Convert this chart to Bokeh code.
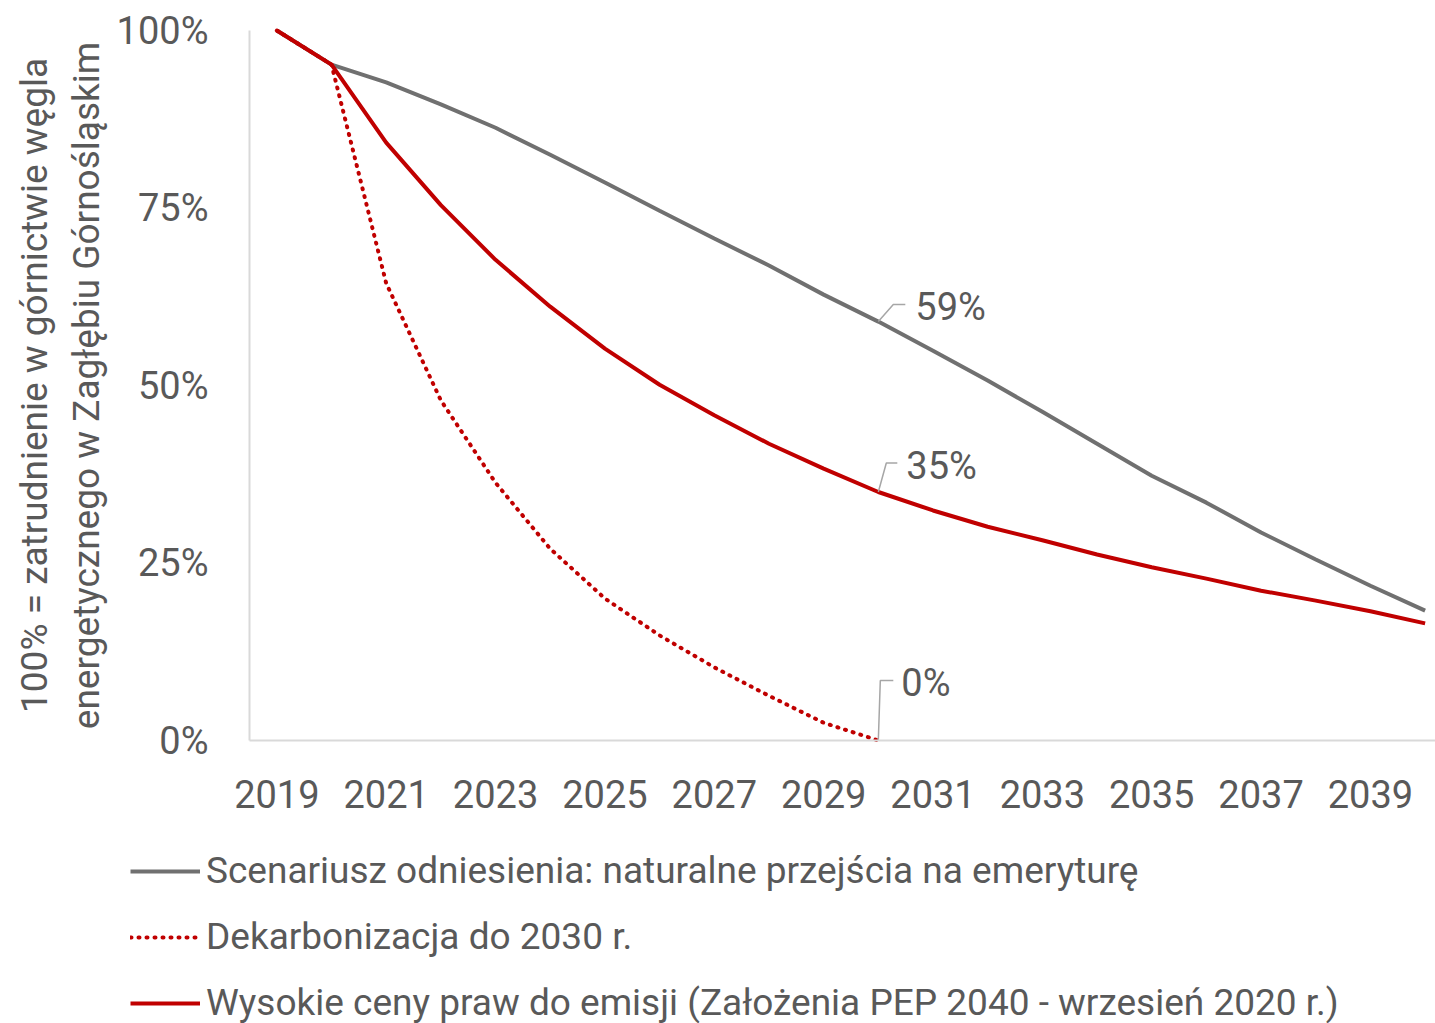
from bokeh.plotting import figure
from bokeh.models import (FixedTicker, NumeralTickFormatter, Legend, LegendItem,
                          Label, Range1d)
from bokeh.embed import file_html
from bokeh.resources import INLINE

# ---------------- data ----------------
years = list(range(2019, 2041))
reference = [1.00, 0.952, 0.927, 0.896, 0.863, 0.825, 0.786, 0.746, 0.707, 0.669,
             0.628, 0.59, 0.549, 0.507, 0.463, 0.418, 0.373, 0.335, 0.293, 0.255,
             0.218, 0.183]
decarb_years = list(range(2019, 2031))
decarb = [1.00, 0.952, 0.644, 0.479, 0.363, 0.270, 0.200, 0.148, 0.103, 0.063,
          0.025, 0.0]
high_prices = [1.00, 0.952, 0.842, 0.754, 0.677, 0.611, 0.552, 0.501, 0.458, 0.418,
               0.383, 0.35, 0.324, 0.301, 0.282, 0.262, 0.244, 0.228, 0.211, 0.197,
               0.182, 0.165]
y_ticks = [0, 0.25, 0.5, 0.75, 1.0]
x_ticks = list(range(2019, 2040, 2))
series_names = ["Scenariusz odniesienia: naturalne przejścia na emeryturę",
                "Dekarbonizacja do 2030 r.",
                "Wysokie ceny praw do emisji (Założenia PEP 2040 - wrzesień 2020 r.)"]
y_title = "100% = zatrudnienie w górnictwie węgla\nenergetycznego w Zagłębiu Górnośląskim"
label_year = 2030
label_texts = ["59%", "0%", "35%"]

FONT = "Roboto"
TXT = "#595959"
GRAY = "#707070"
RED = "#c00000"
AXIS = "#d9d9d9"
FS = "38px"
LW = 4

W, H = 1435, 1023
# layout: plot area 249..1435 px horizontally, 30..740 px vertically
PX_X = 1186 / 21.69          # px per year
PX_Y = 710.0                 # px per 100 %
XA = 2018.5                  # left edge of the plot area (data)
X0, X1 = XA - 249 / PX_X, XA + 1186 / PX_X
Y0, Y1 = -(H - 740) / PX_Y, 1 + 30 / PX_Y

p = figure(width=W, height=H, output_backend="svg", toolbar_location=None,
           x_range=Range1d(X0, X1), y_range=Range1d(Y0, Y1),
           min_border_left=0, min_border_top=0, min_border_right=0,
           min_border_bottom=0)
p.outline_line_color = None
p.grid.visible = False
p.background_fill_color = "white"

for ax in (p.xaxis, p.yaxis):
    ax.axis_line_color = AXIS
    ax.axis_line_width = 2
    ax.major_tick_line_color = None
    ax.minor_tick_line_color = None
    ax.major_label_text_font = FONT
    ax.major_label_text_font_size = FS
    ax.major_label_text_color = TXT

p.xaxis.ticker = FixedTicker(ticks=x_ticks)
p.xaxis.fixed_location = 0
p.xaxis.bounds = (XA, X1)
p.xaxis.major_label_standoff = 33
p.yaxis.ticker = FixedTicker(ticks=y_ticks)
p.yaxis.fixed_location = XA
p.yaxis.bounds = (0, 1)
p.yaxis.formatter = NumeralTickFormatter(format="0%")
p.yaxis.major_label_standoff = 35
p.yaxis.axis_label = y_title
p.yaxis.axis_label_text_font = FONT
p.yaxis.axis_label_text_font_size = "37px"
p.yaxis.axis_label_text_font_style = "normal"
p.yaxis.axis_label_text_color = TXT
p.yaxis.axis_label_standoff = 6

r_ref = p.line(years, reference, line_color=GRAY, line_width=LW)
r_dec = p.line(decarb_years, decarb, line_color=RED, line_width=LW,
               line_dash="1 7", line_cap="round")
r_high = p.line(years, high_prices, line_color=RED, line_width=LW)

# data labels with leader lines (offsets in px converted to data units)
idx = years.index(label_year)
label_vals = [reference[idx], decarb[-1], high_prices[idx]]
leader_px = [((15, 17), (27, 17)), ((2, 60), (15, 60)), ((8, 29), (19, 29))]
text_off = [(37, 15), (23, 58), (28, 26)]
for v, (a, b), (tx, ty), t in zip(label_vals, leader_px, text_off, label_texts):
    xs = [label_year, label_year + a[0] / PX_X, label_year + b[0] / PX_X]
    ys = [v, v + a[1] / PX_Y, v + b[1] / PX_Y]
    p.line(xs, ys, line_color="#a6a6a6", line_width=1.5)
    p.add_layout(Label(x=label_year, y=v, x_offset=tx, y_offset=ty, text=t,
                       text_font=FONT, text_font_size=FS, text_color=TXT,
                       text_baseline="middle", text_align="left"))

legend = Legend(items=[LegendItem(label=series_names[0], renderers=[r_ref]),
                       LegendItem(label=series_names[1], renderers=[r_dec]),
                       LegendItem(label=series_names[2], renderers=[r_high])],
                location=(130, -1), orientation="vertical",
                glyph_width=70, glyph_height=40, label_height=40,
                label_standoff=6, spacing=23, padding=0, margin=0,
                border_line_color=None, background_fill_alpha=0,
                label_text_font=FONT, label_text_font_size="37px",
                label_text_color=TXT)
p.add_layout(legend, "center")

open("out.html", "w").write(file_html(p, INLINE))
